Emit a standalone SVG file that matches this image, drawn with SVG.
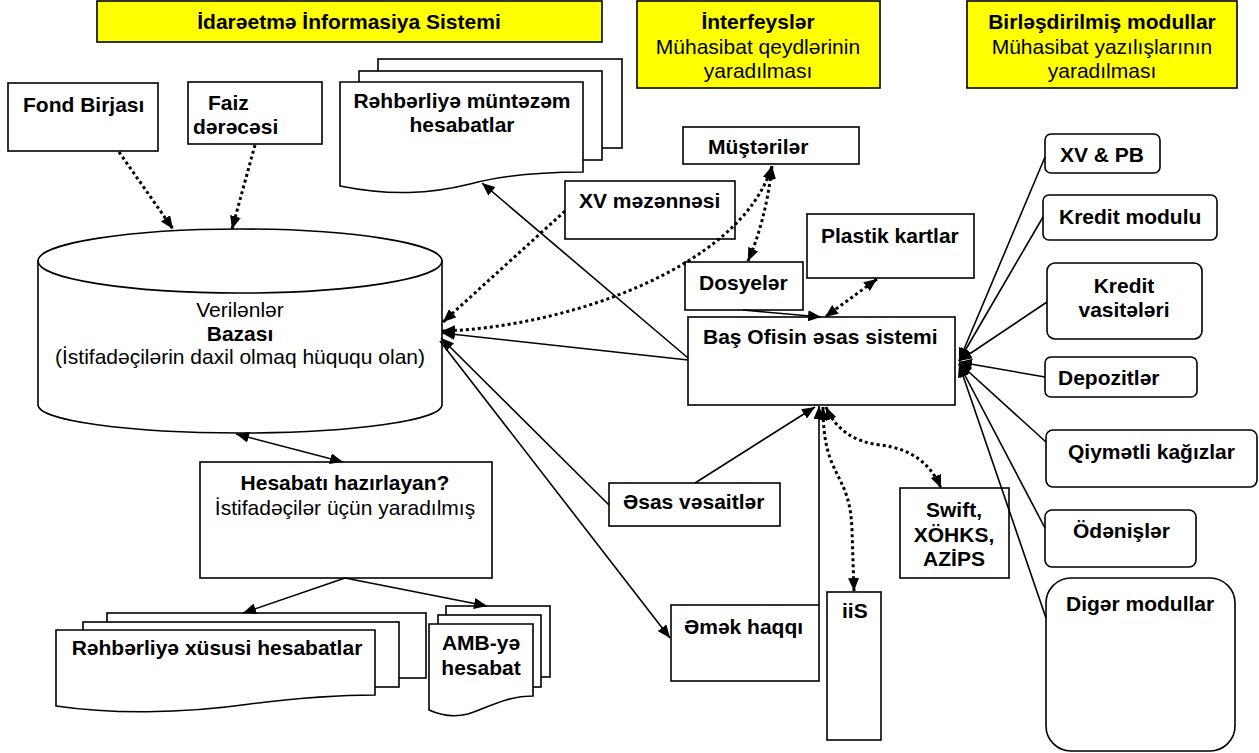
<svg xmlns="http://www.w3.org/2000/svg" width="1259" height="753" viewBox="0 0 1259 753">
<style>
.box{fill:#fff;stroke:#000;stroke-width:1.6}
.hdr{fill:#ffff00;stroke:#000;stroke-width:1.6}
.b{font-family:"Liberation Sans",Arial,sans-serif;font-size:21px;font-weight:bold;fill:#000}
.r{font-family:"Liberation Sans",Arial,sans-serif;font-size:21px;font-weight:normal;fill:#000}
.c{text-anchor:middle}
.ln{stroke:#000;stroke-width:1.6;fill:none}
.dt{stroke:#000;stroke-width:3;stroke-dasharray:3 3;fill:none}
</style>
<defs>
<marker id="ah" viewBox="0 0 13 11" refX="13" refY="5.5" markerWidth="13" markerHeight="11" markerUnits="userSpaceOnUse" orient="auto-start-reverse">
<path d="M0,0 L13,5.5 L0,11 Z" fill="#000"/>
</marker>
</defs>

<g id="hdr-ids">
<rect class="hdr" x="97" y="1" width="505" height="41"/>
<text class="b c" x="349" y="29">İdarəetmə İnformasiya Sistemi</text>
</g>
<g id="hdr-interfeys">
<rect class="hdr" x="637" y="1" width="243" height="87"/>
<text class="b c" x="758" y="29">İnterfeyslər</text>
<text class="r c" x="758" y="54">Mühasibat qeydlərinin</text>
<text class="r c" x="758" y="78">yaradılması</text>
</g>
<g id="hdr-birlesdirilmis">
<rect class="hdr" x="967" y="1" width="270" height="87"/>
<text class="b c" x="1102" y="29">Birləşdirilmiş modullar</text>
<text class="r c" x="1102" y="54">Mühasibat yazılışlarının</text>
<text class="r c" x="1102" y="78">yaradılması</text>
</g>

<g id="fond-birjasi">
<rect class="box" x="8" y="83" width="150" height="68"/>
<text class="b" x="23" y="112">Fond Birjası</text>
</g>
<g id="faiz">
<rect class="box" x="188" y="82" width="134" height="62"/>
<text class="b" x="208" y="110">Faiz</text>
<text class="b" x="193" y="134">dərəcəsi</text>
</g>

<g id="rehberliye-muntezem">
<rect class="box" x="378" y="59" width="244" height="89"/>
<rect class="box" x="359" y="71" width="243" height="89"/>
<path class="box" d="M340,82 H583 V172 C540,172 500,176 470,184 C430,194 390,196 340,186 Z"/>
<text class="b c" x="462" y="108">Rəhbərliyə müntəzəm</text>
<text class="b c" x="462" y="132">hesabatlar</text>
</g>

<g id="verilenler-bazasi">
<path class="box" d="M38,261 V405 A202,28 0 0 0 442,405 V261 Z"/>
<ellipse class="box" cx="240" cy="261" rx="202" ry="32"/>
<text class="r c" x="240" y="317">Verilənlər</text>
<text class="b c" x="240" y="341">Bazası</text>
<text class="r c" x="240" y="364">(İstifadəçilərin daxil olmaq hüququ olan)</text>
</g>

<g id="xv-mezennesi">
<rect class="box" x="565" y="181" width="170" height="58"/>
<text class="b" x="579" y="208">XV məzənnəsi</text>
</g>
<g id="musteriler">
<rect class="box" x="683" y="127" width="176" height="37"/>
<text class="b" x="708" y="154">Müştərilər</text>
</g>
<g id="dosyeler">
<rect class="box" x="685" y="262" width="118" height="48"/>
<text class="b" x="699" y="290">Dosyelər</text>
</g>
<g id="plastik-kartlar">
<rect class="box" x="807" y="214" width="167" height="64"/>
<text class="b" x="821" y="243">Plastik kartlar</text>
</g>
<g id="bas-ofis">
<rect class="box" x="688" y="317" width="267" height="88"/>
<text class="b" x="703" y="344">Baş Ofisin əsas sistemi</text>
</g>

<g id="xv-pb">
<rect class="box" x="1045" y="134" width="115" height="39" rx="6"/>
<text class="b" x="1060" y="162">XV &amp; PB</text>
</g>
<g id="kredit-modulu">
<rect class="box" x="1043" y="195" width="174" height="45" rx="6"/>
<text class="b" x="1059" y="224">Kredit modulu</text>
</g>
<g id="kredit-vasiteleri">
<rect class="box" x="1047" y="263" width="155" height="76" rx="8"/>
<text class="b c" x="1124" y="293">Kredit</text>
<text class="b c" x="1124" y="317">vasitələri</text>
</g>
<g id="depozitler">
<rect class="box" x="1045" y="357" width="152" height="40" rx="6"/>
<text class="b" x="1058" y="385">Depozitlər</text>
</g>
<g id="qiymetli-kagizlar">
<rect class="box" x="1046" y="430" width="211" height="57" rx="7"/>
<text class="b" x="1068" y="459">Qiymətli kağızlar</text>
</g>
<g id="odenisler">
<rect class="box" x="1045" y="510" width="151" height="57" rx="7"/>
<text class="b" x="1073" y="538">Ödənişlər</text>
</g>
<g id="diger-modullar">
<rect class="box" x="1046" y="578" width="189" height="173" rx="25"/>
<text class="b" x="1066" y="611">Digər modullar</text>
</g>

<g id="esas-vesaitler">
<rect class="box" x="609" y="483" width="171" height="43"/>
<text class="b" x="623" y="509">Əsas vəsaitlər</text>
</g>
<g id="emek-haqqi">
<rect class="box" x="671" y="605" width="148" height="76"/>
<text class="b" x="684" y="634">Əmək haqqı</text>
</g>
<g id="iis">
<rect class="box" x="827" y="592" width="54" height="148"/>
<text class="b" x="842" y="618">iiS</text>
</g>
<g id="swift">
<rect class="box" x="900" y="488" width="109" height="90"/>
<text class="b c" x="954" y="517">Swift,</text>
<text class="b c" x="954" y="542">XÖHKS,</text>
<text class="b c" x="954" y="566">AZİPS</text>
</g>

<g id="hesabati-hazirlayan">
<rect class="box" x="200" y="462" width="292" height="116"/>
<text class="b c" x="345" y="490">Hesabatı hazırlayan?</text>
<text class="r c" x="345" y="515">İstifadəçilər üçün yaradılmış</text>
</g>

<g id="rehberliye-xususi">
<rect class="box" x="107" y="613" width="319" height="65"/>
<rect class="box" x="83" y="622" width="316" height="65"/>
<path class="box" d="M56,630 H375 V695 C330,695 290,699 250,704 C180,714 110,714 56,706 Z"/>
<text class="b c" x="217" y="655">Rəhbərliyə xüsusi hesabatlar</text>
</g>

<g id="amb-hesabat">
<rect class="box" x="446" y="606" width="104" height="71"/>
<rect class="box" x="438" y="615" width="103" height="72"/>
<path class="box" d="M429,624 H533 V696 C505,696 485,709 468,714 C452,718 440,715 429,710 Z"/>
<text class="b c" x="481" y="650">AMB-yə</text>
<text class="b c" x="481" y="675">hesabat</text>
</g>

<g id="connectors">
<line class="dt" x1="119" y1="152" x2="173" y2="229" marker-end="url(#ah)"/>
<line class="dt" x1="255" y1="145" x2="232" y2="229" marker-end="url(#ah)"/>
<line class="ln" x1="688" y1="358" x2="482" y2="183" marker-end="url(#ah)"/>
<line class="ln" x1="688" y1="360" x2="442" y2="333" marker-end="url(#ah)"/>
<line class="dt" x1="565" y1="211" x2="443" y2="322" marker-end="url(#ah)"/>
<path class="dt" d="M442,331 C560,328 740,270 772,166" marker-start="url(#ah)" marker-end="url(#ah)"/>
<path class="dt" d="M772,166 Q766,220 748,261" marker-start="url(#ah)" marker-end="url(#ah)"/>
<line class="ln" x1="743" y1="310" x2="821" y2="317" marker-end="url(#ah)"/>
<line class="dt" x1="877" y1="279" x2="825" y2="317" marker-start="url(#ah)" marker-end="url(#ah)"/>
<line class="ln" x1="609" y1="505" x2="441" y2="338" marker-end="url(#ah)"/>
<line class="ln" x1="440" y1="341" x2="670" y2="638" marker-end="url(#ah)"/>
<line class="ln" x1="695" y1="483" x2="815" y2="407" marker-end="url(#ah)"/>
<line class="ln" x1="819" y1="605" x2="819" y2="406" marker-end="url(#ah)"/>
<path class="dt" d="M823,407 C823,480 850,470 852,530 L854,591" marker-start="url(#ah)" marker-end="url(#ah)"/>
<path class="dt" d="M826,407 Q840,440 880,445 Q925,450 941,488" marker-start="url(#ah)" marker-end="url(#ah)"/>
<line class="ln" x1="236" y1="434" x2="343" y2="462" marker-start="url(#ah)" marker-end="url(#ah)"/>
<line class="ln" x1="345" y1="578" x2="243" y2="613" marker-end="url(#ah)"/>
<line class="ln" x1="345" y1="578" x2="487" y2="606" marker-end="url(#ah)"/>
<line class="ln" x1="959" y1="361" x2="1045" y2="157" marker-start="url(#ah)"/>
<line class="ln" x1="959" y1="361" x2="1043" y2="217" marker-start="url(#ah)"/>
<line class="ln" x1="959" y1="361" x2="1047" y2="302" marker-start="url(#ah)"/>
<line class="ln" x1="959" y1="362" x2="1045" y2="377" marker-start="url(#ah)"/>
<line class="ln" x1="959" y1="363" x2="1046" y2="442" marker-start="url(#ah)"/>
<line class="ln" x1="959" y1="364" x2="1045" y2="528" marker-start="url(#ah)"/>
<line class="ln" x1="959" y1="364" x2="1046" y2="618" marker-start="url(#ah)"/>
</g>
</svg>
